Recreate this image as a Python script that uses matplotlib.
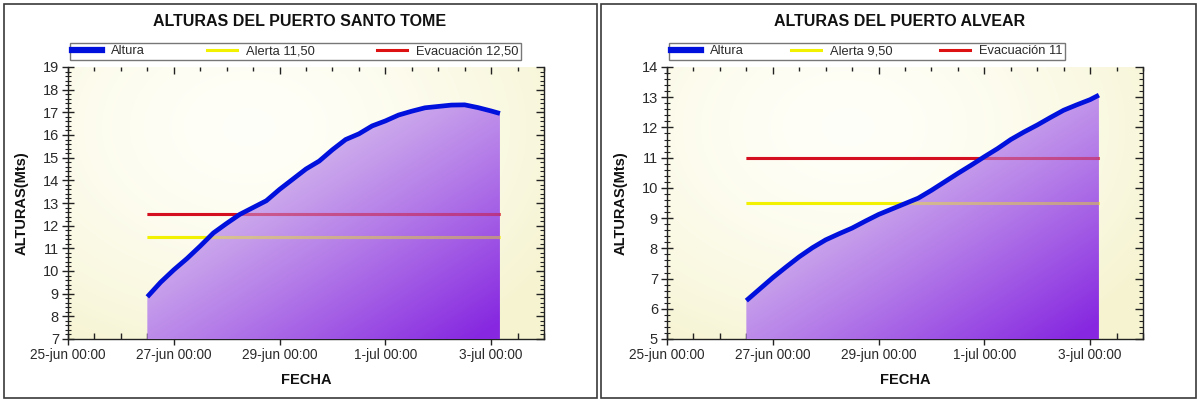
import numpy as np
import matplotlib
matplotlib.use("Agg")
import matplotlib.pyplot as plt
import matplotlib.dates as mdates
from matplotlib.lines import Line2D
from matplotlib.patches import Rectangle
from matplotlib.ticker import MultipleLocator, FixedLocator, FixedFormatter, NullFormatter
from datetime import datetime

# ---------------- data ----------------
fechas = ['2014-06-26 12:00', '2014-06-26 18:00', '2014-06-27 00:00', '2014-06-27 06:00',
          '2014-06-27 12:00', '2014-06-27 18:00', '2014-06-28 00:00', '2014-06-28 06:00',
          '2014-06-28 12:00', '2014-06-28 18:00', '2014-06-29 00:00', '2014-06-29 06:00',
          '2014-06-29 12:00', '2014-06-29 18:00', '2014-06-30 00:00', '2014-06-30 06:00',
          '2014-06-30 12:00', '2014-06-30 18:00', '2014-07-01 00:00', '2014-07-01 06:00',
          '2014-07-01 12:00', '2014-07-01 18:00', '2014-07-02 00:00', '2014-07-02 06:00',
          '2014-07-02 12:00', '2014-07-02 18:00', '2014-07-03 00:00', '2014-07-03 04:00']

altura_santo_tome = [8.86, 9.50, 10.05, 10.55, 11.10, 11.68, 12.10, 12.50, 12.80, 13.10,
                     13.60, 14.05, 14.50, 14.85, 15.35, 15.80, 16.05, 16.40, 16.62, 16.88,
                     17.05, 17.20, 17.26, 17.32, 17.33, 17.21, 17.06, 16.95]
altura_alvear = [6.27, 6.65, 7.03, 7.38, 7.72, 8.02, 8.28, 8.48, 8.67, 8.90,
                 9.12, 9.30, 9.48, 9.66, 9.92, 10.20, 10.48, 10.75, 11.03, 11.30,
                 11.60, 11.85, 12.08, 12.33, 12.57, 12.75, 12.92, 13.07]

titulos = ['ALTURAS DEL PUERTO SANTO TOME', 'ALTURAS DEL PUERTO ALVEAR']
alertas = [11.5, 9.5]
evacuaciones = [12.5, 11.0]
leyendas = [['Altura', 'Alerta 11,50', 'Evacuación 12,50'],
            ['Altura', 'Alerta 9,50', 'Evacuación 11']]
y_limites = [(7, 19), (5, 14)]
x_limites = ['2014-06-25 00:00', '2014-07-04 00:00']
x_ticks = ['2014-06-25 00:00', '2014-06-27 00:00', '2014-06-29 00:00',
           '2014-07-01 00:00', '2014-07-03 00:00']
x_tick_labels = ['25-jun 00:00', '27-jun 00:00', '29-jun 00:00', '1-jul 00:00', '3-jul 00:00']

# ---------------- style ----------------
plt.rcParams['font.family'] = ['Liberation Sans', 'DejaVu Sans']

def to_num(s):
    return mdates.date2num(datetime.strptime(s, '%Y-%m-%d %H:%M'))

t = np.array([to_num(s) for s in fechas])
xl = [to_num(s) for s in x_limites]
xt = [to_num(s) for s in x_ticks]

fig = plt.figure(figsize=(12, 4.05), dpi=100)
W, H = 1200, 405

def fx(px):
    return px / W

def fy(py):
    return 1 - py / H

# panel frames
for x0, x1 in [(4, 597), (601, 1196)]:
    fig.patches.append(Rectangle((fx(x0), fy(398)), fx(x1 - x0), (398 - 4) / H,
                                 transform=fig.transFigure, fill=False,
                                 edgecolor='#3a3a3a', linewidth=1.2, zorder=0))

light = np.array([0.82, 0.70, 0.93])
dark = np.array([0.53, 0.16, 0.88])
bg_center = np.array([1.0, 1.0, 0.975])
bg_edge = np.array([0.965, 0.955, 0.82])

series = [altura_santo_tome, altura_alvear]
ax_left_px = [68, 667]
centers_px = [300, 900]
axcol = '#222222'

for i in range(2):
    L = ax_left_px[i]
    ax = fig.add_axes([fx(L), fy(339), 476 / W, (339 - 67) / H])
    y0, y1 = y_limites[i]
    ax.set_xlim(xl)
    ax.set_ylim(y0, y1)

    # background gradient
    n = 200
    uu, vv = np.meshgrid(np.linspace(0, 1, n), np.linspace(0, 1, n))
    r = np.sqrt(((uu - 0.38) / 0.75) ** 2 + ((vv - 0.78) / 0.95) ** 2)
    r = np.clip(r, 0, 1) ** 1.6
    bg = bg_center[None, None, :] * (1 - r[..., None]) + bg_edge[None, None, :] * r[..., None]
    ax.imshow(bg, extent=[0, 1, 0, 1], transform=ax.transAxes, origin='lower',
              aspect='auto', zorder=0, interpolation='bilinear')

    vals = np.array(series[i])
    # threshold lines (under fill)
    ax.hlines(alertas[i], t[0], t[-1], color='#f2f200', lw=2.2, zorder=2)
    ax.hlines(evacuaciones[i], t[0], t[-1], color='#dd1111', lw=2.2, zorder=2)

    # gradient fill under curve
    poly = ax.fill_between(t, vals, y0, facecolor='none', edgecolor='none', zorder=3)
    s = np.clip((uu - 0.9 * vv + 0.15) / 1.0, 0, 1) ** 1.1
    fillimg = light[None, None, :] * (1 - s[..., None]) + dark[None, None, :] * s[..., None]
    im = ax.imshow(fillimg, extent=[0, 1, 0, 1], transform=ax.transAxes, origin='lower',
                   aspect='auto', zorder=3, interpolation='bilinear')
    im.set_clip_path(poly.get_paths()[0], ax.transData)

    # threshold lines tint over the fill
    ax.hlines(alertas[i], t[0], t[-1], color='#f2f200', lw=2.2, alpha=0.38, zorder=4)
    ax.hlines(evacuaciones[i], t[0], t[-1], color='#cc1030', lw=2.2, alpha=0.5, zorder=4)

    ax.plot(t, vals, color='#0010dd', lw=3.4, zorder=5, solid_capstyle='butt')

    # axes & ticks
    ax.spines['top'].set_visible(False)
    for sp in ['left', 'bottom', 'right']:
        ax.spines[sp].set_color(axcol)
        ax.spines[sp].set_linewidth(1.0)
    ax.xaxis.set_major_locator(FixedLocator(xt))
    ax.xaxis.set_major_formatter(FixedFormatter(x_tick_labels))
    ax.xaxis.set_minor_locator(MultipleLocator(0.5))
    ax.yaxis.set_major_locator(MultipleLocator(1))
    ax.yaxis.set_minor_locator(MultipleLocator(0.2))
    ax.tick_params(axis='x', which='major', direction='inout', length=9, width=1,
                   labelsize=9.8, pad=2, colors=axcol, labelcolor='#2a2a2a')
    ax.tick_params(axis='x', which='minor', direction='in', length=4, width=1, colors=axcol)
    ax.tick_params(axis='y', which='major', direction='inout', length=9, width=1,
                   labelsize=10.5, pad=2, colors=axcol, labelcolor='#2a2a2a')
    ax.tick_params(axis='y', which='minor', direction='inout', length=5, width=0.8,
                   colors=axcol)

    # top ticks (inward, no spine)
    top = ax.secondary_xaxis('top')
    top.spines['top'].set_visible(False)
    top.xaxis.set_major_locator(FixedLocator(xt))
    top.xaxis.set_minor_locator(MultipleLocator(0.5))
    top.xaxis.set_major_formatter(NullFormatter())
    top.tick_params(axis='x', which='major', direction='in', length=5, width=1, colors=axcol)
    top.tick_params(axis='x', which='minor', direction='in', length=3, width=1, colors=axcol)

    # right ticks (inward)
    right = ax.secondary_yaxis('right')
    right.spines['right'].set_visible(False)
    right.yaxis.set_major_locator(MultipleLocator(1))
    right.yaxis.set_minor_locator(MultipleLocator(0.2))
    right.yaxis.set_major_formatter(NullFormatter())
    right.tick_params(axis='y', which='major', direction='in', length=6, width=1, colors=axcol)
    right.tick_params(axis='y', which='minor', direction='in', length=3, width=0.8, colors=axcol)

    # legend
    handles = [Line2D([], [], color='#0010dd', lw=4.5),
               Line2D([], [], color='#f2f200', lw=2.2),
               Line2D([], [], color='#dd1111', lw=2.2)]
    wleg = 0.948 if i == 0 else 0.832
    leg = ax.legend(handles, leyendas[i], ncol=3, mode='expand', loc='lower left',
                    bbox_to_anchor=(0.004, 1.026, wleg, 0.0), borderaxespad=0,
                    frameon=True, fancybox=False, fontsize=9.3, handlelength=2.3,
                    handletextpad=0.7, borderpad=0.2, columnspacing=1.0)
    leg.get_frame().set_edgecolor('#555555')
    leg.get_frame().set_linewidth(1.0)
    for txt in leg.get_texts():
        txt.set_color('#2a2a2a')

    # texts
    fig.text(fx(centers_px[i]), fy(22), titulos[i], ha='center', va='center',
             fontsize=11.5, fontweight='bold', color='#111111')
    fig.text(fx(L + 238), fy(380), 'FECHA', ha='center', va='center',
             fontsize=10.5, fontweight='bold', color='#111111')
    fig.text(fx(L - 46), fy(203), 'ALTURAS(Mts)', ha='center', va='center',
             rotation=90, fontsize=10.5, fontweight='bold', color='#111111')

fig.savefig('out.png', dpi=100, facecolor='white')
